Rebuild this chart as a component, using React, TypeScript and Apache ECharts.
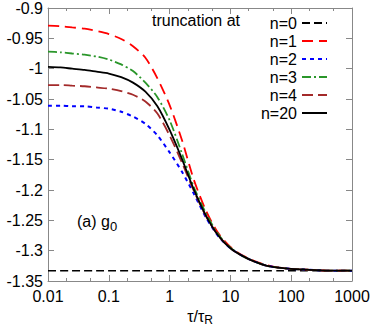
import React, { useEffect, useRef } from "react";
import * as echarts from "echarts";

const tau = [0.01, 0.016, 0.025, 0.04, 0.063, 0.1, 0.16, 0.25, 0.4, 0.63, 1, 1.6, 2.5, 4, 6.3, 10, 16, 25, 40, 63, 100, 160, 250, 400, 630, 1000];
const n0 = [-1.333, -1.333, -1.333, -1.333, -1.333, -1.333, -1.333, -1.333, -1.333, -1.333, -1.333, -1.333, -1.333, -1.333, -1.333, -1.333, -1.333, -1.333, -1.333, -1.333, -1.333, -1.333, -1.333, -1.333, -1.333, -1.333];
const n1 = [-0.929, -0.93, -0.932, -0.934, -0.938, -0.943, -0.951, -0.963, -0.982, -1.016, -1.06, -1.118, -1.183, -1.235, -1.271, -1.294, -1.308, -1.317, -1.324, -1.328, -1.33, -1.331, -1.332, -1.333, -1.333, -1.333];
const n2 = [-1.061, -1.061, -1.062, -1.062, -1.064, -1.066, -1.071, -1.079, -1.091, -1.11, -1.138, -1.17, -1.206, -1.246, -1.276, -1.296, -1.309, -1.318, -1.325, -1.328, -1.33, -1.331, -1.332, -1.333, -1.333, -1.333];
const n3 = [-0.972, -0.973, -0.975, -0.977, -0.98, -0.985, -0.993, -1.004, -1.023, -1.047, -1.085, -1.14, -1.195, -1.239, -1.273, -1.295, -1.309, -1.318, -1.325, -1.328, -1.33, -1.331, -1.332, -1.333, -1.333, -1.333];
const n4 = [-1.027, -1.027, -1.028, -1.029, -1.031, -1.033, -1.037, -1.043, -1.054, -1.074, -1.11, -1.155, -1.201, -1.244, -1.275, -1.296, -1.309, -1.318, -1.325, -1.328, -1.33, -1.331, -1.332, -1.333, -1.333, -1.333];
const n20 = [-0.997, -0.998, -1.0, -1.002, -1.005, -1.008, -1.014, -1.023, -1.038, -1.062, -1.101, -1.149, -1.199, -1.243, -1.275, -1.296, -1.309, -1.318, -1.325, -1.328, -1.33, -1.331, -1.332, -1.333, -1.333, -1.333];

const majorTicks = [0.01, 0.1, 1, 10, 100, 1000];
const minorTicks = [0.02, 0.05, 0.2, 0.5, 2, 5, 20, 50, 200, 500];

const FONT = "Liberation Sans, Arial, sans-serif";

export default function App() {
  const ref = useRef<HTMLDivElement>(null);
  useEffect(() => {
    if (!ref.current) return;
    const chart = echarts.init(ref.current, null, { renderer: "svg" });
    const pair = (vals: number[]) => tau.map((t, i) => [t, vals[i]]);
    const axisColor = "#888888";
    const xBase = (pos: string, ticks: number[], len: number, labels: boolean, line: boolean) => ({
      type: "log",
      logBase: 10,
      min: 0.01,
      max: 1000,
      position: pos,
      splitLine: { show: false },
      axisLine: { show: line, lineStyle: { color: axisColor, width: 1 } },
      axisTick: { show: true, inside: true, length: len, customValues: ticks, lineStyle: { color: axisColor } },
      axisLabel: labels
        ? {
            show: true,
            color: "#000",
            fontSize: 16,
            fontFamily: FONT,
            margin: 7,
            formatter: (v: number) => String(Number(v.toPrecision(3))),
          }
        : { show: false },
    });
    const series = [
      { name: "n=0", data: n0, color: "#000000", type: [8, 4], width: 1.6, z: 2 },
      { name: "n=1", data: n1, color: "#ff0000", type: [11, 6], width: 1.8, z: 3 },
      { name: "n=2", data: n2, color: "#0000ff", type: [4, 4], width: 2, z: 3 },
      { name: "n=3", data: n3, color: "#2a962a", type: [9, 3, 2, 3], width: 1.8, z: 3 },
      { name: "n=4", data: n4, color: "#a32a2a", type: [11, 5], width: 1.8, z: 3 },
      { name: "n=20", data: n20, color: "#000000", type: "solid", width: 1.8, z: 4 },
    ];
    chart.setOption({
      animation: false,
      grid: { left: 48, right: 22, top: 8, bottom: 51, containLabel: false, outerBoundsMode: "none" },
      xAxis: [
        {
          ...xBase("bottom", majorTicks, 6, true, true),
          name: "τ/τ{s|R}",
          nameLocation: "middle",
          nameGap: 26,
          nameTextStyle: {
            color: "#000",
            fontSize: 16,
            fontFamily: FONT,
            rich: { s: { fontSize: 12, fontFamily: FONT, color: "#000", padding: [7, 0, 0, 0] } },
          },
        },
        xBase("bottom", minorTicks, 3, false, false),
        xBase("top", majorTicks, 6, false, true),
        xBase("top", minorTicks, 3, false, false),
      ],
      yAxis: [
        {
          type: "value",
          min: -1.35,
          max: -0.9,
          interval: 0.05,
          position: "left",
          splitLine: { show: false },
          axisLine: { show: true, lineStyle: { color: axisColor } },
          axisTick: { show: true, inside: true, length: 6, lineStyle: { color: axisColor } },
          axisLabel: {
            color: "#000",
            fontSize: 16,
            fontFamily: FONT,
            margin: 5,
            formatter: (v: number) => String(Number(v.toFixed(2))),
          },
        },
        {
          type: "value",
          min: -1.35,
          max: -0.9,
          interval: 0.05,
          position: "right",
          splitLine: { show: false },
          axisLine: { show: true, lineStyle: { color: axisColor } },
          axisTick: { show: true, inside: true, length: 6, lineStyle: { color: axisColor } },
          axisLabel: { show: false },
        },
      ],
      legend: {
        orient: "vertical",
        right: 41,
        top: 10,
        align: "right",
        itemWidth: 25,
        itemHeight: 14,
        itemGap: 2,
        itemStyle: { opacity: 0 },
        data: series.map((s) => s.name),
        formatter: "{a|{name}}",
        textStyle: {
          color: "#000",
          fontSize: 16,
          fontFamily: FONT,
          rich: { a: { width: 40, align: "right", fontSize: 16, fontFamily: FONT, color: "#000" } },
        },
      },
      graphic: [
        {
          type: "text",
          left: 152,
          top: 12,
          style: { text: "truncation at", fontSize: 16, fontFamily: FONT, fill: "#000" },
        },
        {
          type: "text",
          left: 77,
          top: 213,
          style: {
            text: "(a) g{s|0}",
            fontSize: 16,
            fontFamily: FONT,
            fill: "#000",
            rich: { s: { fontSize: 13, fontFamily: FONT, fill: "#000", padding: [10, 0, 0, 0] } },
          },
        },
      ],
      series: series.map((s) => ({
        name: s.name,
        type: "line",
        data: pair(s.data),
        showSymbol: false,
        symbol: "none",
        smooth: 0.25,
        z: s.z,
        color: s.color,
        lineStyle: { color: s.color, width: s.width, type: s.type },
      })),
    });
    return () => chart.dispose();
  }, []);
  return <div ref={ref} style={{ width: 374, height: 332, position: "absolute", left: 0, top: 0 }} />;
}
